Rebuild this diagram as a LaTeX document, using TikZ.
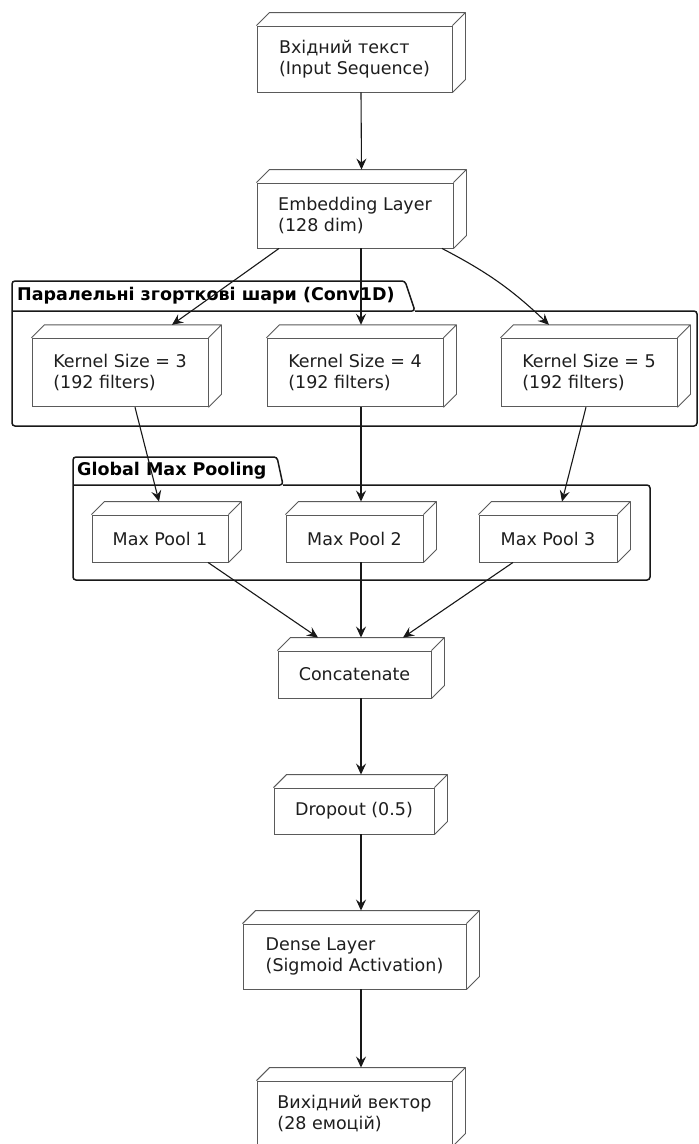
\documentclass[tikz,border=0pt]{standalone}
\usepackage{fontspec}
\setmainfont{DejaVu Sans}
\usetikzlibrary{calc,arrows.meta}
\definecolor{ink}{HTML}{181818}
\definecolor{txt}{HTML}{1E1E1E}
\definecolor{boxc}{HTML}{5A5A5A}
\tikzset{
  x=1pt,y=1pt,
  box3d/.style={draw=boxc, line width=0.9pt, fill=white, rectangle, inner sep=0pt,
    align=left, text=txt, font=\fontsize{17.5}{21}\selectfont},
  depthface/.style={draw=boxc, line width=0.9pt, line join=round},
  pkg/.style={draw=ink, line width=1.5pt, rounded corners=3pt},
  pkgtitle/.style={anchor=west, inner sep=0pt, text=black, font=\fontsize{17.5}{21}\selectfont\bfseries},
  arr/.style={draw=ink, line width=1.1pt, -{Stealth[length=11pt,width=10pt,inset=4pt]}}
}
\begin{document}
\begin{tikzpicture}
\useasboundingbox (0,0) rectangle (699,-1144);
\fill[white] (0,0) rectangle (699,-1144);

% packages
\draw[pkg] (415,-311) -- (697,-311) -- (697,-426) -- (12,-426) -- (12,-281) -- (405,-281) -- (415,-311) -- (12,-311);
\node[pkgtitle] (p1) at (17,-296) {Паралельні згорткові шари (Conv1D)};
\draw[pkg] (283,-485) -- (650,-485) -- (650,-580) -- (73,-580) -- (73,-457) -- (277,-457) -- (283,-485) -- (73,-485);
\node[pkgtitle] (p2) at (77,-471) {Global Max Pooling};

% nodes
\node[box3d, minimum width=195, minimum height=66] (in) at (354.5,-59) {Вхідний текст\\(Input Sequence)};
\node[box3d, minimum width=196, minimum height=65] (emb) at (355,-215.5) {Embedding Layer\\(128 dim)};
\node[box3d, minimum width=176, minimum height=68.5] (k3) at (120,-372.5) {Kernel Size = 3\\(192 filters)};
\node[box3d, minimum width=176, minimum height=68.5] (k4) at (355,-372.5) {Kernel Size = 4\\(192 filters)};
\node[box3d, minimum width=176, minimum height=68.5] (k5) at (589,-372.5) {Kernel Size = 5\\(192 filters)};
\node[box3d, minimum width=136, minimum height=47] (mp1) at (160,-538.5) {Max Pool 1};
\node[box3d, minimum width=137, minimum height=47] (mp2) at (354.5,-538.5) {Max Pool 2};
\node[box3d, minimum width=138, minimum height=47] (mp3) at (548,-538.5) {Max Pool 3};
\node[box3d, minimum width=153, minimum height=47] (cat) at (354.5,-674.5) {Concatenate};
\node[box3d, minimum width=160, minimum height=46] (drop) at (354,-811) {Dropout (0.5)};
\node[box3d, minimum width=223, minimum height=65] (dense) at (354.5,-956.5) {Dense Layer\\(Sigmoid Activation)};
\node[box3d, minimum width=195, minimum height=65] (out) at (354.5,-1113.5) {Вихідний вектор\\(28 емоцій)};

\foreach \n in {in,emb,k3,k4,k5,mp1,mp2,mp3,cat,drop,dense,out}{
  \draw[depthface] (\n.north west) -- ++(13,13) -- ($(\n.north east)+(13,13)$) -- ($(\n.south east)+(13,13)$) -- (\n.south east) (\n.north east) -- ++(13,13);
}

% connectors
\draw[arr] ([xshift=6.5pt]in.south) -- ([xshift=6.5pt,yshift=13pt]emb.north);
\draw[arr] ([xshift=-76pt]emb.south) -- ([xshift=52pt,yshift=13pt]k3.north);
\draw[arr] ([xshift=6pt]emb.south) -- ([xshift=6pt,yshift=13pt]k4.north);
\draw[arr] ([xshift=87pt]emb.south) to[bend left=8] ([xshift=-40pt,yshift=13pt]k5.north);
\draw[arr] ([xshift=15pt]k3.south) -- ([xshift=-1pt,yshift=13pt]mp1.north);
\draw[arr] ([xshift=6pt]k4.south) -- ([xshift=6.5pt,yshift=13pt]mp2.north);
\draw[arr] ([xshift=-3pt]k5.south) -- ([xshift=14pt,yshift=13pt]mp3.north);
\draw[arr] ([xshift=48pt]mp1.south) -- ([xshift=-36.5pt,yshift=13pt]cat.north);
\draw[arr] ([xshift=6.5pt]mp2.south) -- ([xshift=6.5pt,yshift=13pt]cat.north);
\draw[arr] ([xshift=-35pt]mp3.south) -- ([xshift=48.5pt,yshift=13pt]cat.north);
\draw[arr] ([xshift=6.5pt]cat.south) -- ([xshift=7pt,yshift=13pt]drop.north);
\draw[arr] ([xshift=7pt]drop.south) -- ([xshift=6.5pt,yshift=13pt]dense.north);
\draw[arr] ([xshift=6.5pt]dense.south) -- ([xshift=6.5pt,yshift=13pt]out.north);
\end{tikzpicture}
\end{document}
